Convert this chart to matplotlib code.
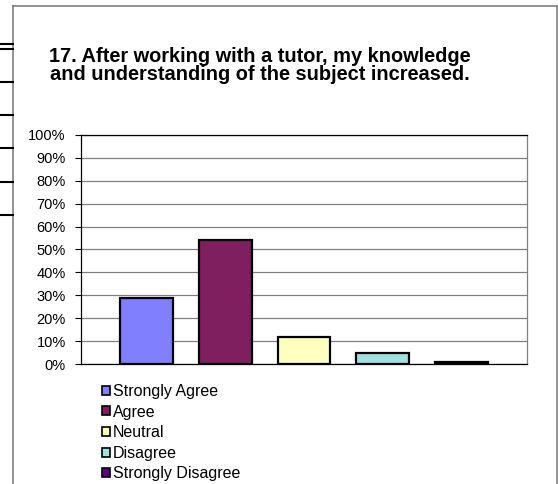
import matplotlib
matplotlib.use("Agg")
import matplotlib.pyplot as plt
from matplotlib.lines import Line2D
from matplotlib.patches import Patch

categories = ["Strongly Agree", "Agree", "Neutral", "Disagree", "Strongly Disagree"]
values = [29, 54, 12, 5, 1]
colors = ["#8080FF", "#7F1F5F", "#FFFFC0", "#A0E0E0", "#600080"]
yticks = [0, 10, 20, 30, 40, 50, 60, 70, 80, 90, 100]
title = "17. After working with a tutor, my knowledge\nand understanding of the subject increased."

W, H = 558, 484
plt.rcParams['font.family'] = ['Liberation Sans', 'DejaVu Sans']
fig = plt.figure(figsize=(W / 100, H / 100), dpi=100)

def fx(px):
    return px / W

def fy(py):
    return 1 - py / H

ax = fig.add_axes([fx(81), fy(364), fx(527) - fx(81), fy(135) - fy(364)])
x = list(range(len(categories)))
ax.bar(x, values, width=0.67, color=colors, edgecolor="black", linewidth=1.6, zorder=3)
ax.set_xlim(-0.83, 4.83)
ax.set_ylim(0, 100)
ax.set_yticks(yticks)
ax.set_yticklabels([f"{v}%" for v in yticks], fontsize=10.5)
ax.set_xticks([])
ax.tick_params(axis='y', length=4, width=0.8, pad=7, color='black')
ax.grid(axis='y', color='#808080', linewidth=0.9, zorder=0)
for s in ['left', 'bottom', 'top']:
    ax.spines[s].set_color('black')
    ax.spines[s].set_linewidth(0.9)
ax.spines['right'].set_color('#808080')
ax.spines['right'].set_linewidth(0.9)

fig.text(fx(260), fy(47), title, ha='center', va='top', multialignment='center',
         fontsize=14.4, fontweight='bold', linespacing=0.95)

handles = [Patch(facecolor=c, edgecolor='black', linewidth=1.2) for c in colors]
fig.legend(handles, categories, loc='upper left', bbox_to_anchor=(fx(102), fy(384)),
           frameon=False, fontsize=11.5, handlelength=0.5, handleheight=0.5,
           handletextpad=0.2, labelspacing=0.35, borderaxespad=0, borderpad=0)

# chart area frame
gray = '#808080'
fig.add_artist(Line2D([fx(13), fx(13)], [fy(6), fy(484)], color=gray, lw=1.2))
fig.add_artist(Line2D([fx(13), fx(557)], [fy(6), fy(6)], color=gray, lw=1.2))
fig.add_artist(Line2D([fx(557), fx(557)], [fy(6), fy(484)], color=gray, lw=1.2))
for yy in [44, 49, 82, 115, 148, 182, 215]:
    fig.add_artist(Line2D([fx(0), fx(13)], [fy(yy), fy(yy)], color='black', lw=1.5))

fig.savefig("out.png", dpi=100)
